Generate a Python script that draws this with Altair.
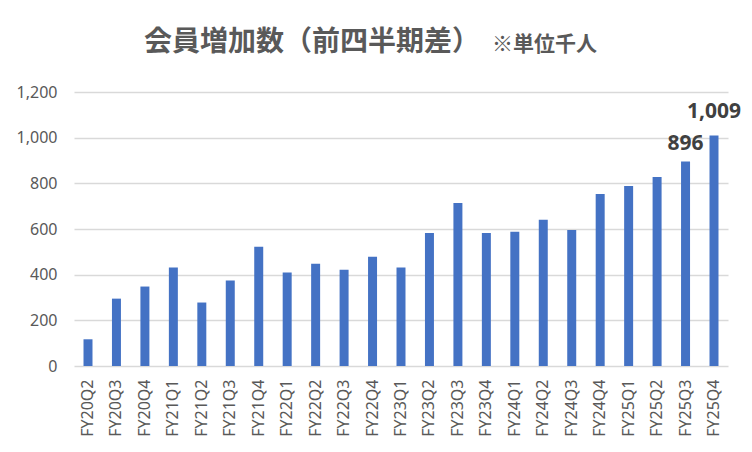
import altair as alt
import pandas as pd

quarters = ["FY20Q2", "FY20Q3", "FY20Q4", "FY21Q1", "FY21Q2", "FY21Q3", "FY21Q4",
            "FY22Q1", "FY22Q2", "FY22Q3", "FY22Q4", "FY23Q1", "FY23Q2", "FY23Q3",
            "FY23Q4", "FY24Q1", "FY24Q2", "FY24Q3", "FY24Q4", "FY25Q1", "FY25Q2",
            "FY25Q3", "FY25Q4"]
values = [117, 295, 348, 431, 278, 374, 522, 409, 448, 422, 479, 431, 583, 714,
          583, 588, 640, 596, 753, 788, 828, 896, 1009]
y_ticks = [0, 200, 400, 600, 800, 1000, 1200]

title_main = "会員増加数（前四半期差）"
title_unit = "※単位千人"

df = pd.DataFrame({"q": quarters, "v": values})

grey = "#595959"
xs = alt.X("q:N", sort=quarters,
           scale=alt.Scale(paddingInner=0.684, paddingOuter=0.334),
           axis=alt.Axis(title=None, labelAngle=-90, labelFont="Noto Sans",
                         labelFontSize=16, labelColor=grey, labelPadding=13,
                         ticks=False, domain=False, grid=False))
ys = alt.Y("v:Q", scale=alt.Scale(domain=[0, 1200], nice=False),
           axis=alt.Axis(title=None, values=y_ticks,
                         format=",.0f", labelFont="Noto Sans", labelFontSize=16,
                         labelColor=grey, labelPadding=17, ticks=False, tickSize=0,
                         domain=False, grid=True, gridColor="#D9D9D9", gridWidth=1.3))

base = alt.Chart(df)
bars = base.mark_bar(color="#4472C4").encode(x=xs, y=ys)

lab1 = base.transform_filter(alt.datum.q == "FY25Q3").mark_text(
    font="Noto Sans", fontSize=21, fontWeight="bold", color="#404040",
    baseline="alphabetic", dy=-11).encode(x=xs, y=ys, text=alt.Text("v:Q", format=",.0f"))
lab2 = base.transform_filter(alt.datum.q == "FY25Q4").mark_text(
    font="Noto Sans", fontSize=21, fontWeight="bold", color="#404040",
    baseline="alphabetic", dy=-18).encode(x=xs, y=ys, text=alt.Text("v:Q", format=",.0f"))

tdf = pd.DataFrame({"t": [title_main]})
udf = pd.DataFrame({"t": [title_unit]})
t1 = alt.Chart(tdf).mark_text(font="Noto Sans CJK JP", fontSize=28, fontWeight="bold",
                              color=grey, align="left", baseline="alphabetic").encode(
    x=alt.value(70), y=alt.value(-41), text="t:N")
t2 = alt.Chart(udf).mark_text(font="Noto Sans CJK JP", fontSize=21, fontWeight="bold",
                              color=grey, align="left", baseline="alphabetic").encode(
    x=alt.value(418), y=alt.value(-41), text="t:N")

chart = alt.layer(bars, lab1, lab2, t1, t2).properties(
    width=654, height=274,
    autosize=alt.AutoSizeParams(type="none"),
    padding={"left": 66, "top": 84, "right": 16, "bottom": 80},
    background="white",
).configure_view(stroke=None)

chart.save("out.html", embed_options={"renderer": "svg", "actions": False})
